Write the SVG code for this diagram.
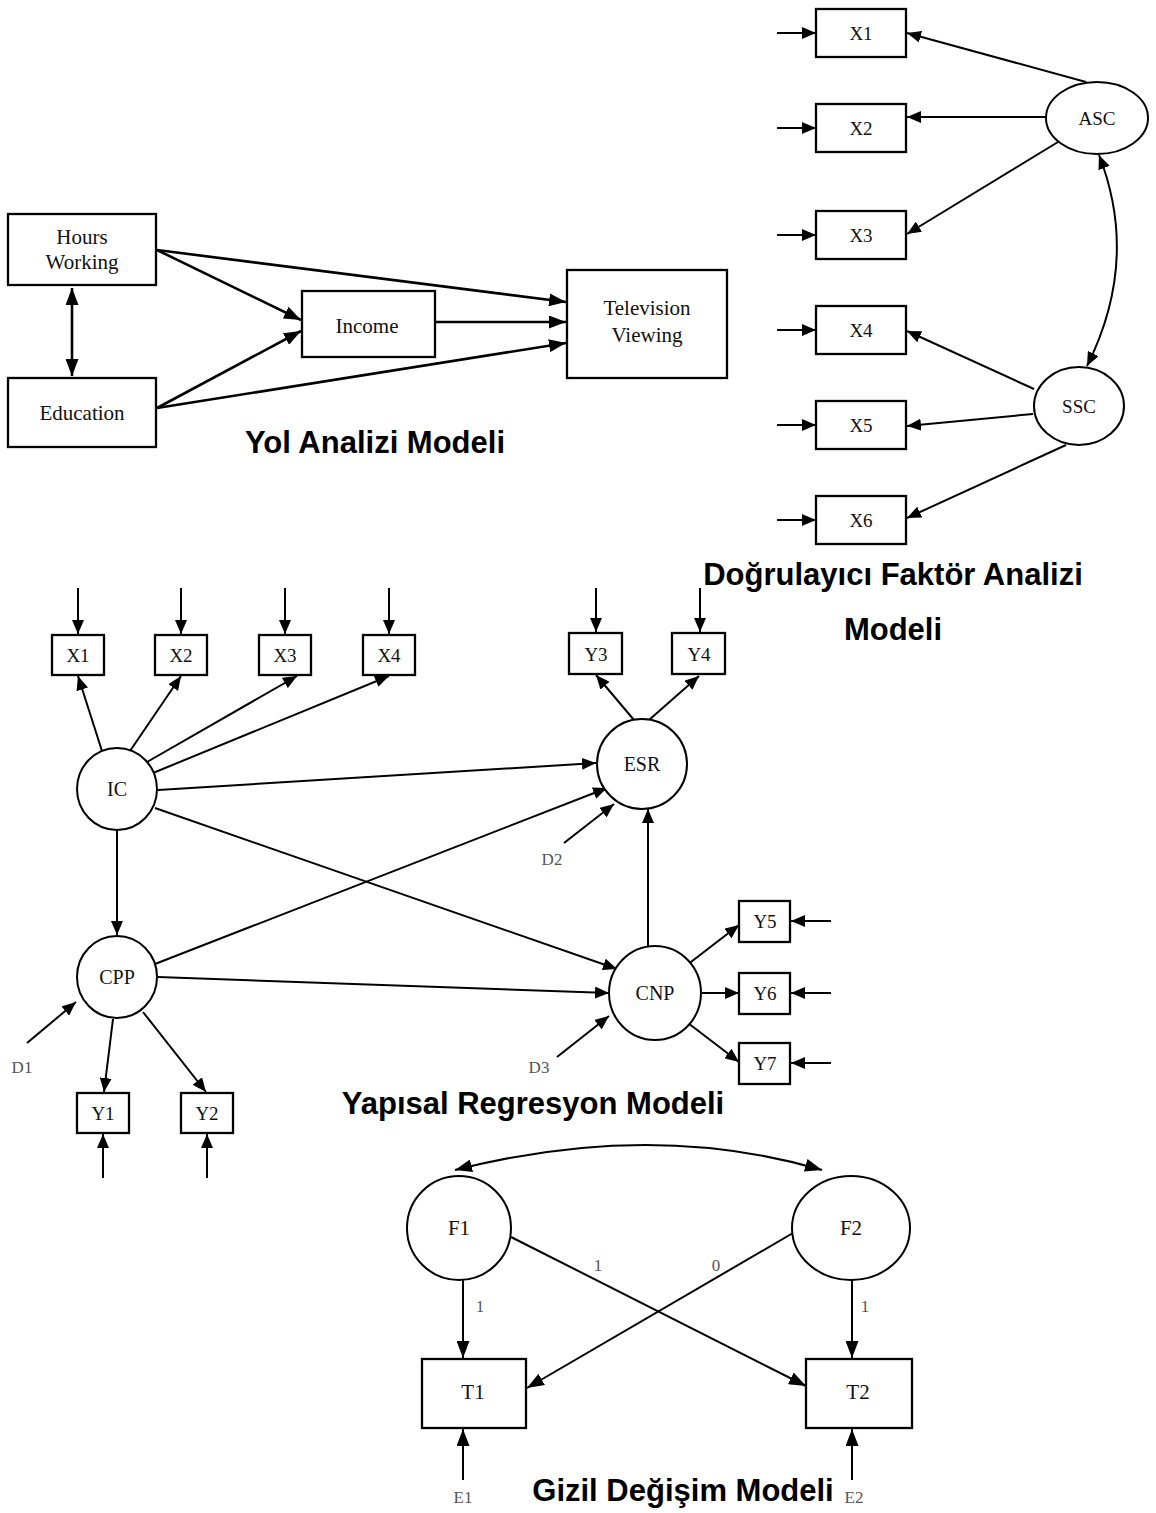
<svg xmlns="http://www.w3.org/2000/svg" width="1156" height="1513" viewBox="0 0 1156 1513">
  <style>
    .box { fill: #fff; stroke: #000; stroke-width: 2.3; }
    .lat { fill: #fff; stroke: #000; stroke-width: 2; }
    .ln { fill: none; stroke: #000; stroke-width: 2; }
    .lnb { fill: none; stroke: #000; stroke-width: 2.6; }
    .t { font-family: "Liberation Serif", "Times New Roman", serif; fill: #111; text-anchor: middle; dominant-baseline: central; }
    .t21 { font-size: 21px; }
    .t19 { font-size: 19px; }
    .t20 { font-size: 20px; }
    .err { font-family: "Liberation Serif", "Times New Roman", serif; font-size: 17px; fill: #555; text-anchor: middle; dominant-baseline: central; }
    .title { font-family: "Liberation Sans", Arial, sans-serif; font-weight: bold; font-size: 31px; fill: #000; text-anchor: middle; }
  </style>
  <defs>
    <marker id="ah" markerWidth="14" markerHeight="12" refX="14" refY="6" orient="auto-start-reverse" markerUnits="userSpaceOnUse">
      <path d="M0,0 L14,6 L0,12 Z" fill="#000"/>
    </marker>
    <marker id="ahL" markerWidth="17" markerHeight="13" refX="17" refY="6.5" orient="auto-start-reverse" markerUnits="userSpaceOnUse">
      <path d="M0,0 L17,6.5 L0,13 Z" fill="#000"/>
    </marker>
  </defs>

  <rect width="1156" height="1513" fill="#fff"/>

  <!-- ===== Path analysis model ===== -->
  <g id="path-connectors">
    <line class="lnb" x1="72" y1="288" x2="72" y2="376" marker-start="url(#ahL)" marker-end="url(#ahL)"/>
    <line class="lnb" x1="157" y1="250" x2="301" y2="320" marker-end="url(#ahL)"/>
    <line class="lnb" x1="157" y1="250" x2="566" y2="302" marker-end="url(#ahL)"/>
    <line class="lnb" x1="435" y1="322" x2="566" y2="322" marker-end="url(#ahL)"/>
    <line class="lnb" x1="157" y1="408" x2="301" y2="331" marker-end="url(#ahL)"/>
    <line class="lnb" x1="157" y1="408" x2="566" y2="343" marker-end="url(#ahL)"/>
  </g>
  <g id="hours-working">
    <rect class="box" x="8" y="214" width="148" height="71"/>
    <text class="t t21" x="82" y="237">Hours</text>
    <text class="t t21" x="82" y="262">Working</text>
  </g>
  <g id="education">
    <rect class="box" x="8" y="378" width="148" height="69"/>
    <text class="t t21" x="82" y="413">Education</text>
  </g>
  <g id="income">
    <rect class="box" x="302" y="291" width="133" height="66"/>
    <text class="t t21" x="367" y="326">Income</text>
  </g>
  <g id="television-viewing">
    <rect class="box" x="567" y="270" width="160" height="108"/>
    <text class="t t21" x="647" y="308">Television</text>
    <text class="t t21" x="647" y="335">Viewing</text>
  </g>
  <text class="title" x="375" y="453">Yol Analizi Modeli</text>

  <!-- ===== Confirmatory factor analysis model ===== -->
  <g id="cfa-connectors">
    <line class="ln" x1="777" y1="33" x2="816" y2="33" marker-end="url(#ah)"/>
    <line class="ln" x1="777" y1="128" x2="816" y2="128" marker-end="url(#ah)"/>
    <line class="ln" x1="777" y1="235" x2="816" y2="235" marker-end="url(#ah)"/>
    <line class="ln" x1="777" y1="330" x2="816" y2="330" marker-end="url(#ah)"/>
    <line class="ln" x1="777" y1="425" x2="816" y2="425" marker-end="url(#ah)"/>
    <line class="ln" x1="777" y1="520" x2="816" y2="520" marker-end="url(#ah)"/>
    <line class="ln" x1="1086" y1="82" x2="907" y2="33" marker-end="url(#ah)"/>
    <line class="ln" x1="1046" y1="117" x2="907" y2="117" marker-end="url(#ah)"/>
    <line class="ln" x1="1058" y1="142" x2="907" y2="234" marker-end="url(#ah)"/>
    <path class="ln" d="M1099,155 Q1140,260 1087,366" marker-start="url(#ah)" marker-end="url(#ah)"/>
    <line class="ln" x1="1034" y1="389" x2="907" y2="331" marker-end="url(#ah)"/>
    <line class="ln" x1="1033" y1="414" x2="907" y2="426" marker-end="url(#ah)"/>
    <line class="ln" x1="1066" y1="445" x2="907" y2="518" marker-end="url(#ah)"/>
  </g>
  <g id="cfa-x1"><rect class="box" x="816" y="9" width="90" height="48"/><text class="t t19" x="861" y="33">X1</text></g>
  <g id="cfa-x2"><rect class="box" x="816" y="104" width="90" height="48"/><text class="t t19" x="861" y="128">X2</text></g>
  <g id="cfa-x3"><rect class="box" x="816" y="211" width="90" height="48"/><text class="t t19" x="861" y="235">X3</text></g>
  <g id="cfa-x4"><rect class="box" x="816" y="306" width="90" height="48"/><text class="t t19" x="861" y="330">X4</text></g>
  <g id="cfa-x5"><rect class="box" x="816" y="401" width="90" height="48"/><text class="t t19" x="861" y="425">X5</text></g>
  <g id="cfa-x6"><rect class="box" x="816" y="496" width="90" height="48"/><text class="t t19" x="861" y="520">X6</text></g>
  <g id="asc"><ellipse class="lat" cx="1097" cy="118" rx="51" ry="36"/><text class="t t19" x="1097" y="118">ASC</text></g>
  <g id="ssc"><ellipse class="lat" cx="1079" cy="406" rx="45" ry="39"/><text class="t t19" x="1079" y="406">SSC</text></g>
  <text class="title" x="893" y="585">Doğrulayıcı Faktör Analizi</text>
  <text class="title" x="893" y="640">Modeli</text>

  <!-- ===== Structural regression model ===== -->
  <g id="sem-connectors">
    <!-- measurement errors -->
    <line class="ln" x1="78" y1="588" x2="78" y2="634" marker-end="url(#ah)"/>
    <line class="ln" x1="181" y1="588" x2="181" y2="634" marker-end="url(#ah)"/>
    <line class="ln" x1="285" y1="588" x2="285" y2="634" marker-end="url(#ah)"/>
    <line class="ln" x1="389" y1="588" x2="389" y2="634" marker-end="url(#ah)"/>
    <line class="ln" x1="596" y1="588" x2="596" y2="632" marker-end="url(#ah)"/>
    <line class="ln" x1="700" y1="588" x2="700" y2="632" marker-end="url(#ah)"/>
    <line class="ln" x1="831" y1="921" x2="791" y2="921" marker-end="url(#ah)"/>
    <line class="ln" x1="831" y1="993" x2="791" y2="993" marker-end="url(#ah)"/>
    <line class="ln" x1="831" y1="1063" x2="791" y2="1063" marker-end="url(#ah)"/>
    <line class="ln" x1="103" y1="1178" x2="103" y2="1134" marker-end="url(#ah)"/>
    <line class="ln" x1="207" y1="1178" x2="207" y2="1134" marker-end="url(#ah)"/>
    <!-- disturbances -->
    <line class="ln" x1="27" y1="1043" x2="76" y2="1002" marker-end="url(#ah)"/>
    <line class="ln" x1="564" y1="843" x2="614" y2="804" marker-end="url(#ah)"/>
    <line class="ln" x1="557" y1="1057" x2="609" y2="1016" marker-end="url(#ah)"/>
    <!-- loadings -->
    <line class="ln" x1="102" y1="751" x2="78" y2="676" marker-end="url(#ah)"/>
    <line class="ln" x1="130" y1="751" x2="181" y2="676" marker-end="url(#ah)"/>
    <line class="ln" x1="147" y1="762" x2="297" y2="676" marker-end="url(#ah)"/>
    <line class="ln" x1="153" y1="773" x2="389" y2="676" marker-end="url(#ah)"/>
    <line class="ln" x1="634" y1="720" x2="596" y2="675" marker-end="url(#ah)"/>
    <line class="ln" x1="649" y1="720" x2="699" y2="676" marker-end="url(#ah)"/>
    <line class="ln" x1="687" y1="965" x2="739" y2="925" marker-end="url(#ah)"/>
    <line class="ln" x1="701" y1="993" x2="739" y2="993" marker-end="url(#ah)"/>
    <line class="ln" x1="688" y1="1023" x2="739" y2="1062" marker-end="url(#ah)"/>
    <line class="ln" x1="113" y1="1019" x2="104" y2="1092" marker-end="url(#ah)"/>
    <line class="ln" x1="143" y1="1012" x2="206" y2="1092" marker-end="url(#ah)"/>
    <!-- structural paths -->
    <line class="ln" x1="117" y1="831" x2="117" y2="935" marker-end="url(#ah)"/>
    <line class="ln" x1="158" y1="790" x2="596" y2="763" marker-end="url(#ah)"/>
    <line class="ln" x1="155" y1="808" x2="617" y2="969" marker-end="url(#ah)"/>
    <line class="ln" x1="155" y1="964" x2="607" y2="788" marker-end="url(#ah)"/>
    <line class="ln" x1="158" y1="977" x2="609" y2="993" marker-end="url(#ah)"/>
    <line class="ln" x1="648" y1="947" x2="648" y2="809" marker-end="url(#ah)"/>
  </g>
  <g id="sem-x1"><rect class="box" x="52" y="635" width="52" height="40"/><text class="t t19" x="78" y="655">X1</text></g>
  <g id="sem-x2"><rect class="box" x="155" y="635" width="52" height="40"/><text class="t t19" x="181" y="655">X2</text></g>
  <g id="sem-x3"><rect class="box" x="259" y="635" width="52" height="40"/><text class="t t19" x="285" y="655">X3</text></g>
  <g id="sem-x4"><rect class="box" x="363" y="635" width="52" height="40"/><text class="t t19" x="389" y="655">X4</text></g>
  <g id="sem-y3"><rect class="box" x="569" y="633" width="53" height="41"/><text class="t t19" x="596" y="654">Y3</text></g>
  <g id="sem-y4"><rect class="box" x="672" y="633" width="53" height="41"/><text class="t t19" x="699" y="654">Y4</text></g>
  <g id="sem-y5"><rect class="box" x="739" y="901" width="51" height="41"/><text class="t t19" x="765" y="921">Y5</text></g>
  <g id="sem-y6"><rect class="box" x="739" y="973" width="51" height="41"/><text class="t t19" x="765" y="993">Y6</text></g>
  <g id="sem-y7"><rect class="box" x="739" y="1043" width="51" height="41"/><text class="t t19" x="765" y="1063">Y7</text></g>
  <g id="sem-y1"><rect class="box" x="77" y="1093" width="52" height="40"/><text class="t t19" x="103" y="1113">Y1</text></g>
  <g id="sem-y2"><rect class="box" x="181" y="1093" width="52" height="40"/><text class="t t19" x="207" y="1113">Y2</text></g>
  <g id="ic"><ellipse class="lat" cx="117" cy="789" rx="40" ry="41"/><text class="t t20" x="117" y="789">IC</text></g>
  <g id="cpp"><ellipse class="lat" cx="117" cy="977" rx="40" ry="41"/><text class="t t20" x="117" y="977">CPP</text></g>
  <g id="esr"><ellipse class="lat" cx="642" cy="764" rx="45" ry="45"/><text class="t t20" x="642" y="764">ESR</text></g>
  <g id="cnp"><ellipse class="lat" cx="655" cy="993" rx="46" ry="47"/><text class="t t20" x="655" y="993">CNP</text></g>
  <text class="err" x="22" y="1067">D1</text>
  <text class="err" x="552" y="859">D2</text>
  <text class="err" x="539" y="1067">D3</text>
  <text class="title" x="533" y="1114">Yapısal Regresyon Modeli</text>

  <!-- ===== Latent change model ===== -->
  <g id="lcm-connectors">
    <path class="ln" d="M455,1170 Q652,1120 822,1170" marker-start="url(#ahL)" marker-end="url(#ahL)"/>
    <line class="ln" x1="463" y1="1280" x2="463" y2="1358" marker-end="url(#ahL)"/>
    <line class="ln" x1="852" y1="1280" x2="852" y2="1358" marker-end="url(#ahL)"/>
    <line class="ln" x1="511" y1="1237" x2="806" y2="1386" marker-end="url(#ahL)"/>
    <line class="ln" x1="793" y1="1233" x2="527" y2="1388" marker-end="url(#ahL)"/>
    <line class="ln" x1="463" y1="1480" x2="463" y2="1429" marker-end="url(#ahL)"/>
    <line class="ln" x1="852" y1="1480" x2="852" y2="1429" marker-end="url(#ahL)"/>
  </g>
  <g id="f1"><ellipse class="lat" cx="459" cy="1228" rx="52" ry="52"/><text class="t t21" x="459" y="1228">F1</text></g>
  <g id="f2"><ellipse class="lat" cx="851" cy="1228" rx="59" ry="52"/><text class="t t21" x="851" y="1228">F2</text></g>
  <g id="t1"><rect class="box" x="422" y="1359" width="104" height="69"/><text class="t t21" x="473" y="1392">T1</text></g>
  <g id="t2"><rect class="box" x="806" y="1359" width="106" height="69"/><text class="t t21" x="858" y="1392">T2</text></g>
  <text class="err" x="480" y="1306">1</text>
  <text class="err" x="865" y="1306">1</text>
  <text class="err" x="598" y="1265">1</text>
  <text class="err" x="716" y="1265">0</text>
  <text class="err" x="463" y="1497">E1</text>
  <text class="err" x="854" y="1497">E2</text>
  <text class="title" x="683" y="1501">Gizil Değişim Modeli</text>
</svg>
